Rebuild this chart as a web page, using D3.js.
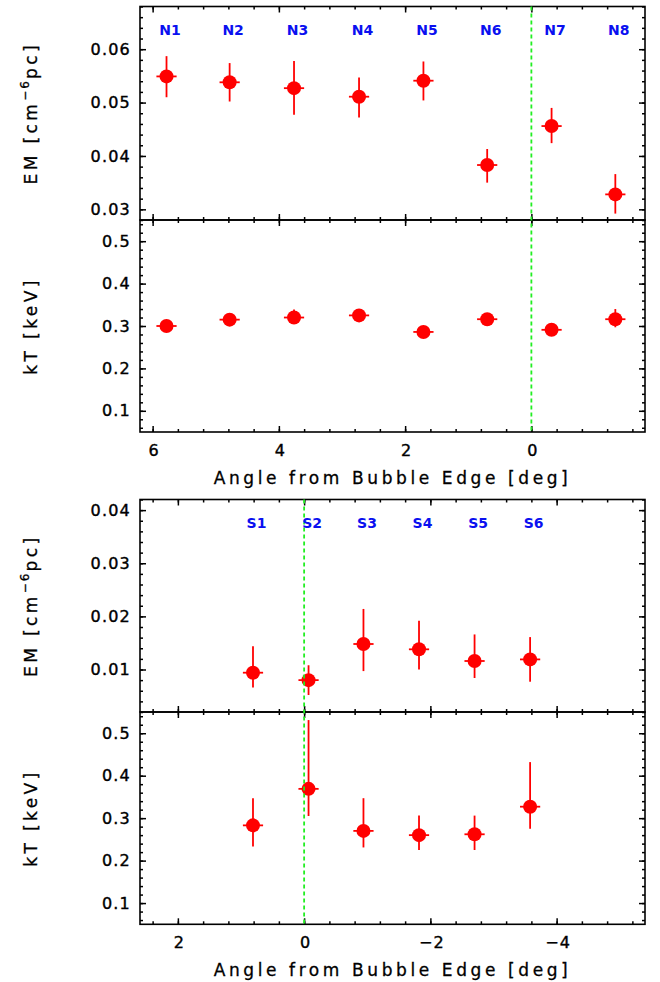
<!DOCTYPE html>
<html><head><meta charset="utf-8">
<script src="https://cdn.jsdelivr.net/npm/d3@7"></script>
<style>
html,body{margin:0;padding:0;background:#fff;}
svg{display:block;}
text{font-family:"DejaVu Sans","Liberation Sans",Arial,sans-serif;}
</style></head>
<body>
<svg id="chart" width="660" height="982"></svg>
<script>
// ---------- data ----------
const nRegions = ["N1","N2","N3","N4","N5","N6","N7","N8"];
const nAngle   = [5.78, 4.78, 3.76, 2.73, 1.71, 0.70, -0.32, -1.33];
const nEM      = [0.0549, 0.0538, 0.0527, 0.0511, 0.0541, 0.0383, 0.0456, 0.0328];
const nEMLo    = [0.0510, 0.0502, 0.0477, 0.0472, 0.0504, 0.0350, 0.0424, 0.0292];
const nEMHi    = [0.0587, 0.0574, 0.0578, 0.0547, 0.0577, 0.0413, 0.0490, 0.0366];
const nKT      = [0.300, 0.315, 0.320, 0.325, 0.286, 0.316, 0.291, 0.316];
const nKTLo    = [0.292, 0.306, 0.308, 0.314, 0.277, 0.304, 0.282, 0.297];
const nKTHi    = [0.308, 0.324, 0.339, 0.336, 0.295, 0.328, 0.300, 0.340];

const sRegions = ["S1","S2","S3","S4","S5","S6"];
const sAngle   = [0.81, -0.07, -0.94, -1.82, -2.70, -3.58];
const sEM      = [0.0094, 0.0080, 0.0148, 0.0138, 0.0116, 0.0119];
const sEMLo    = [0.0066, 0.0052, 0.0097, 0.0100, 0.0084, 0.0077];
const sEMHi    = [0.0144, 0.0108, 0.0214, 0.0192, 0.0166, 0.0161];
const sKT      = [0.283, 0.369, 0.270, 0.260, 0.262, 0.327];
const sKTLo    = [0.233, 0.305, 0.231, 0.225, 0.225, 0.275];
const sKTHi    = [0.347, 0.531, 0.347, 0.306, 0.306, 0.432];

const angleErr = 0.16;
const edgeAngle = 0;

const topXDomain = [6.2, -1.8];
const botXDomain = [2.6, -5.4];
const xMajorTop = [6, 4, 2, 0];
const xMajorBot = [2, 0, -2, -4];
const nEMDomain = [0.028, 0.068];
const sEMDomain = [0.002, 0.042];
const kTDomain  = [0.05, 0.55];
const nEMTicks = [0.03, 0.04, 0.05, 0.06];
const sEMTicks = [0.01, 0.02, 0.03, 0.04];
const kTTicks  = [0.1, 0.2, 0.3, 0.4, 0.5];

const emTitle = ["EM [cm", "\u22126", "pc]"];
const ktTitle = "kT [keV]";
const xTitle  = "Angle from Bubble Edge [deg]";

// ---------- layout ----------
const svg = d3.select("#chart");
const L = 140, R = 645;
const figs = [
  {top: 6.5, mid: 220, bot: 432, xd: topXDomain, xMaj: xMajorTop, emD: nEMDomain, emT: nEMTicks,
   names: nRegions, ang: nAngle, em: nEM, emLo: nEMLo, emHi: nEMHi, kt: nKT, ktLo: nKTLo, ktHi: nKTHi},
  {top: 499.5, mid: 712, bot: 924.3, xd: botXDomain, xMaj: xMajorBot, emD: sEMDomain, emT: sEMTicks,
   names: sRegions, ang: sAngle, em: sEM, emLo: sEMLo, emHi: sEMHi, kt: sKT, ktLo: sKTLo, ktHi: sKTHi}
];

const RED = "#ff0000", GREEN = "#22ee22", BLUE = "#0a10f0";
const fmtTick = d => String(d).replace("-", "\u2212");

function minorRange(domain, step) {
  const lo = Math.min(domain[0], domain[1]), hi = Math.max(domain[0], domain[1]);
  const out = [];
  for (let k = Math.ceil(lo / step - 1e-9); k * step <= hi + 1e-9; k++) out.push(+(k * step).toFixed(6));
  return out;
}

function styleAxis(g) {
  g.select(".domain").remove();
  g.selectAll(".tick line").attr("stroke", "#000").attr("stroke-width", 1.5);
  g.selectAll("text").attr("fill", "#000").attr("stroke", "#000").attr("stroke-width", 0.4)
    .style("font-size", "16px").style("letter-spacing", "1.2px");
}

function panel(x, y, yTop, yBot, yMaj, yMinStep, showXLabels) {
  const g = svg.append("g");
  const xMin = minorRange(x.domain(), 0.4);
  const yMin = minorRange(y.domain(), yMinStep);
  g.append("g").attr("transform", `translate(${L},0)`)
    .call(d3.axisLeft(y).tickValues(yMin).tickSize(-3).tickFormat("")).call(styleAxis);
  g.append("g").attr("transform", `translate(${L},0)`)
    .call(d3.axisLeft(y).tickValues(yMaj).tickSize(-6).tickPadding(9).tickFormat(d3.format(".2~f"))).call(styleAxis);
  g.append("g").attr("transform", `translate(${R},0)`)
    .call(d3.axisRight(y).tickValues(yMin).tickSize(-3).tickFormat("")).call(styleAxis);
  g.append("g").attr("transform", `translate(${R},0)`)
    .call(d3.axisRight(y).tickValues(yMaj).tickSize(-6).tickFormat("")).call(styleAxis);
  g.append("g").attr("transform", `translate(0,${yTop})`)
    .call(d3.axisTop(x).tickValues(xMin).tickSize(-3).tickFormat("")).call(styleAxis);
  g.append("g").attr("transform", `translate(0,${yTop})`)
    .call(d3.axisTop(x).tickValues(x.majors).tickSize(-6).tickFormat("")).call(styleAxis);
  g.append("g").attr("transform", `translate(0,${yBot})`)
    .call(d3.axisBottom(x).tickValues(xMin).tickSize(-3).tickFormat("")).call(styleAxis);
  const bx = g.append("g").attr("transform", `translate(0,${yBot})`)
    .call(d3.axisBottom(x).tickValues(x.majors).tickSize(-6).tickPadding(12.5)
      .tickFormat(showXLabels ? fmtTick : "")).call(styleAxis);
  bx.selectAll("text").attr("dx", "1px");
  g.append("rect").attr("x", L).attr("y", yTop).attr("width", R - L).attr("height", yBot - yTop)
    .attr("fill", "none").attr("stroke", "#000").attr("stroke-width", 1.6);
  return g;
}

function points(g, x, y, ang, val, lo, hi) {
  const idx = d3.range(ang.length);
  g.append("g").selectAll("line.v").data(idx).join("line")
    .attr("x1", i => x(ang[i])).attr("x2", i => x(ang[i]))
    .attr("y1", i => y(lo[i])).attr("y2", i => y(hi[i]))
    .attr("stroke", RED).attr("stroke-width", 1.8);
  g.append("g").selectAll("line.h").data(idx).join("line")
    .attr("x1", i => x(ang[i] + angleErr)).attr("x2", i => x(ang[i] - angleErr))
    .attr("y1", i => y(val[i])).attr("y2", i => y(val[i]))
    .attr("stroke", RED).attr("stroke-width", 1.8);
  g.append("g").selectAll("circle").data(idx).join("circle")
    .attr("cx", i => x(ang[i])).attr("cy", i => y(val[i])).attr("r", 7)
    .attr("fill", RED);
}

function yTitle(cy, parts) {
  const t = svg.append("text").attr("transform", `translate(37,${cy}) rotate(-90)`)
    .attr("text-anchor", "middle").style("font-size", "17px").style("letter-spacing", "3.4px")
    .attr("fill", "#000").attr("stroke", "#000").attr("stroke-width", 0.3);
  if (typeof parts === "string") { t.text(parts); return; }
  t.append("tspan").text(parts[0]);
  t.append("tspan").text(parts[1]).attr("dy", "-8").style("font-size", "12px").style("letter-spacing", "2px");
  t.append("tspan").text(parts[2]).attr("dy", "8");
}

figs.forEach(f => {
  const x = d3.scaleLinear().domain(f.xd).range([L, R]);
  x.majors = f.xMaj;
  const yEM = d3.scaleLinear().domain(f.emD).range([f.mid, f.top]);
  const yKT = d3.scaleLinear().domain(kTDomain).range([f.bot, f.mid]);

  const gE = panel(x, yEM, f.top, f.mid, f.emT, 0.002, false);
  const gK = panel(x, yKT, f.mid, f.bot, kTTicks, 0.02, true);

  svg.append("line").attr("x1", x(edgeAngle)).attr("x2", x(edgeAngle))
    .attr("y1", f.top).attr("y2", f.bot)
    .attr("stroke", GREEN).attr("stroke-width", 1.8).attr("stroke-dasharray", "4,3");

  points(gE, x, yEM, f.ang, f.em, f.emLo, f.emHi);
  points(gK, x, yKT, f.ang, f.kt, f.ktLo, f.ktHi);

  svg.append("g").selectAll("text").data(f.names).join("text")
    .attr("x", (d, i) => x(f.ang[i]) + 3.5).attr("y", f.top + 28.5)
    .attr("text-anchor", "middle").attr("fill", BLUE)
    .style("font-size", "14px").style("font-weight", "bold")
    .text(d => d);

  yTitle((f.top + f.mid) / 2, emTitle);
  yTitle((f.mid + f.bot) / 2, ktTitle);

  svg.append("text").attr("x", (L + R) / 2).attr("y", f.bot + 51.5)
    .attr("text-anchor", "middle").style("font-size", "17px").style("letter-spacing", "3.6px")
    .attr("fill", "#000").attr("stroke", "#000").attr("stroke-width", 0.3).text(xTitle);
});
</script>
</body></html>
